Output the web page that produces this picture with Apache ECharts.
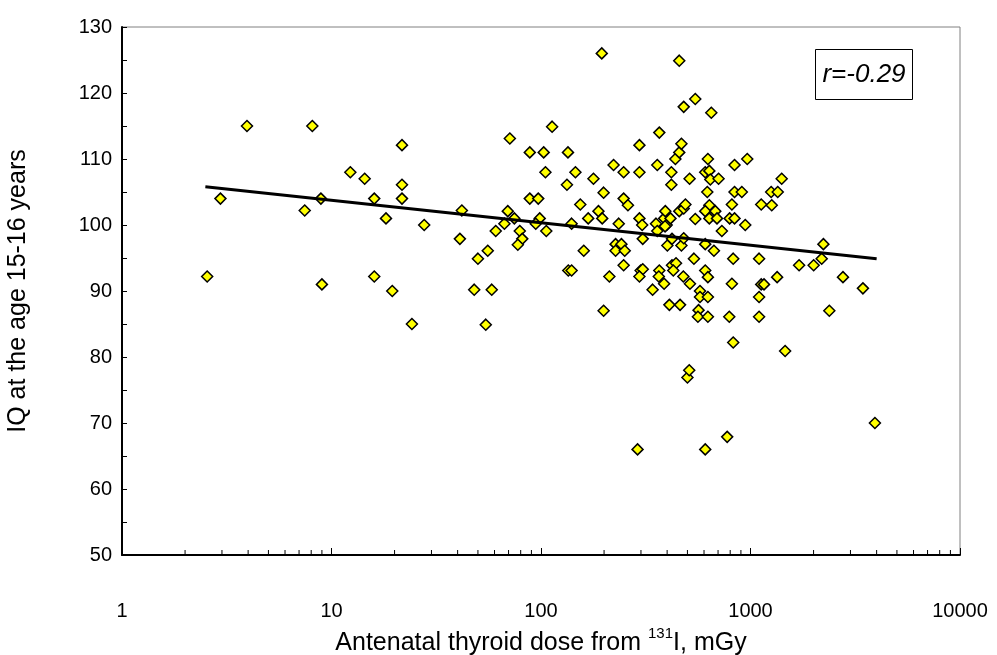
<!DOCTYPE html>
<html>
<head>
<meta charset="utf-8">
<script src="https://cdn.jsdelivr.net/npm/echarts@6/dist/echarts.min.js"></script>
<style>html,body{margin:0;padding:0;background:#fff;}#c{width:997px;height:655px;}</style>
</head>
<body>
<div id="c"></div>
<script>
// Antenatal thyroid dose (mGy)
var doseMGy = [
  2.55,2.95,3.95,7.45,8.1,8.9,9.0,12.3,14.4,16,16,18.2,19.5,21.7,21.7,21.7,24.2,27.7,
  41.9,41,55.7,50,48,58.2,54.5,69.4,74.6,66.9,60.8,79.2,81.4,77.5,71,88.4,103,134.5,113,105,146,88.4,97,98.6,94.4,106,133,140,160,135,140,154,168,178,188,196,199,195,199,212,222,227,242,227,251,248,235,248,248,260,
  295,295,295,304,306,299,306,295,289,359,367,354,359,387,398,415,391,392,401,422,419,419,438,457,468,457,480,545,650,457,480,489,468,480,422,441,428,367,365,387,341,478,514,410,461,512,545,537,500,510,565,561,574,574,
  608,636,643,704,626,622,636,608,679,608,669,636,692,608,626,626,626,608,774,730,795,839,815,839,839,965,909,944,827,815,792,827,
  1099,1125,1263,1255,1349,1409,1125,1160,1099,1099,1340,1463,1706,2002,2187,2228,2378,2763,3441,3925
];
// IQ at the age 15-16 years
var iqScore = [
  92.2,104,115,102.2,115,104,91,108,107,104,92.2,101,90,112.1,106.1,104,85,100,
  102.2,97.9,96.1,94.9,90.2,90.2,84.9,102.1,101,100.2,99.1,99.1,97.9,97,113.1,111,111,111,114.9,108,108,104,104,101,100.2,99.1,106.1,100.2,96.1,93.1,93.1,103.1,101,107,102.1,101,104.9,126,87,92.2,109.1,97.1,97.1,96.1,96.1,93.9,100.2,108,104,103,
  112.1,108,101,100,97.9,93.1,93.3,92.2,66,109.1,114,100.2,99.1,101,100,101,99.8,102.1,96.9,97.9,108,106.1,110,111,112.3,124.9,117.9,119.1,117,102.1,102.5,103.1,96.9,98,93.9,94.2,93.1,93.1,92.2,91.1,90.2,92.2,91.1,87.9,87.9,107,100.9,94.9,76.9,78,87.1,86.1,90,89.1,
  108,108.2,106.9,107,110,105,103,102.1,102.1,97.1,96.1,101,101,93.1,92.1,89.1,86.1,66,67.9,99.1,101,101,103.1,105,109.1,110,105,100,94.9,91.1,86.1,82.2,
  94.9,103.1,103,105,105,107,91,91,89.1,86.1,92.1,80.9,93.9,93.9,94.9,97.1,87,92.1,90.4,70
];
// regression line end points
var trendDose = [2.5, 4000];
var trendIQ = [105.8, 94.9];
// axis tick labels
var xTickLabels = [1, 10, 100, 1000, 10000];
var yTickLabels = [50, 60, 70, 80, 90, 100, 110, 120, 130];
// log minor tick positions
var xMinorTicks = [2,3,4,5,6,7,8,9,20,30,40,50,60,70,80,90,200,300,400,500,600,700,800,900,2000,3000,4000,5000,6000,7000,8000,9000];
var rText = 'r=-0.29';

var FONT = '"Liberation Sans", Arial, sans-serif';
var points = doseMGy.map(function (d, i) { return [d, iqScore[i]]; });
var trend = trendDose.map(function (d, i) { return [d, trendIQ[i]]; });

var chart = echarts.init(document.getElementById('c'), null, {renderer: 'canvas'});
chart.setOption({
  animation: false,
  backgroundColor: '#fff',
  grid: {left: 122, right: 37, top: 27, bottom: 100, outerBoundsMode: 'none', containLabel: false,
         show: true, borderColor: '#808080', borderWidth: 1, backgroundColor: 'transparent'},
  xAxis: {
    type: 'log', logBase: 10, min: xTickLabels[0], max: xTickLabels[xTickLabels.length - 1],
    name: '{a|Antenatal thyroid dose from }{s|131}{a|I, mGy}',
    nameLocation: 'middle', nameGap: 68,
    nameTextStyle: {
      rich: {
        a: {fontFamily: FONT, fontSize: 25, color: '#000', lineHeight: 30, verticalAlign: 'bottom'},
        s: {fontFamily: FONT, fontSize: 15, color: '#000', lineHeight: 30, verticalAlign: 'top', padding: [0, 0, 10, 0]}
      }
    },
    axisLine: {show: true, lineStyle: {color: '#000', width: 2}},
    axisTick: {show: true, inside: true, length: 7, lineStyle: {color: '#000', width: 1}},
    minorTick: {show: false},
    splitLine: {show: false},
    axisLabel: {margin: 46, fontFamily: FONT, fontSize: 20, color: '#000',
                formatter: function (v) { return String(v); }}
  },
  yAxis: {
    type: 'value', min: yTickLabels[0], max: yTickLabels[yTickLabels.length - 1], interval: 10,
    name: 'IQ at the age 15-16 years', nameLocation: 'middle', nameGap: 91,
    nameTextStyle: {fontFamily: FONT, fontSize: 25, color: '#000'},
    axisLine: {show: true, lineStyle: {color: '#000', width: 2}},
    axisTick: {show: true, inside: true, length: 5, lineStyle: {color: '#000', width: 1}},
    minorTick: {show: true, splitNumber: 2, length: 5, lineStyle: {color: '#000', width: 1}},
    splitLine: {show: false},
    axisLabel: {margin: 10, fontFamily: FONT, fontSize: 20, color: '#000'}
  },
  graphic: [{
    type: 'group', left: 815, top: 49,
    children: [
      {type: 'rect', shape: {x: 0, y: 0, width: 97, height: 50}, style: {fill: '#fff', stroke: '#000', lineWidth: 1}},
      {type: 'text', x: 48.5, y: 25, style: {text: rText, font: 'italic 26px ' + FONT, fill: '#000', textAlign: 'center', textVerticalAlign: 'middle'}}
    ]
  }],
  series: [
    {
      type: 'custom', silent: true, z: 1,
      data: xMinorTicks.map(function (v) { return [v, yTickLabels[0]]; }),
      renderItem: function (params, api) {
        var p = api.coord([api.value(0), api.value(1)]);
        return {type: 'line', shape: {x1: p[0], y1: p[1], x2: p[0], y2: p[1] - 5}, style: {stroke: '#000', lineWidth: 1}};
      }
    },
    {
      type: 'scatter', data: points, symbol: 'diamond', symbolSize: 11, z: 3,
      itemStyle: {color: '#FFFF00', borderColor: '#000', borderWidth: 1.5, opacity: 1}
    },
    {
      type: 'line', data: trend, symbol: 'none', z: 4,
      lineStyle: {color: '#000', width: 3}
    }
  ]
});
</script>
</body>
</html>
